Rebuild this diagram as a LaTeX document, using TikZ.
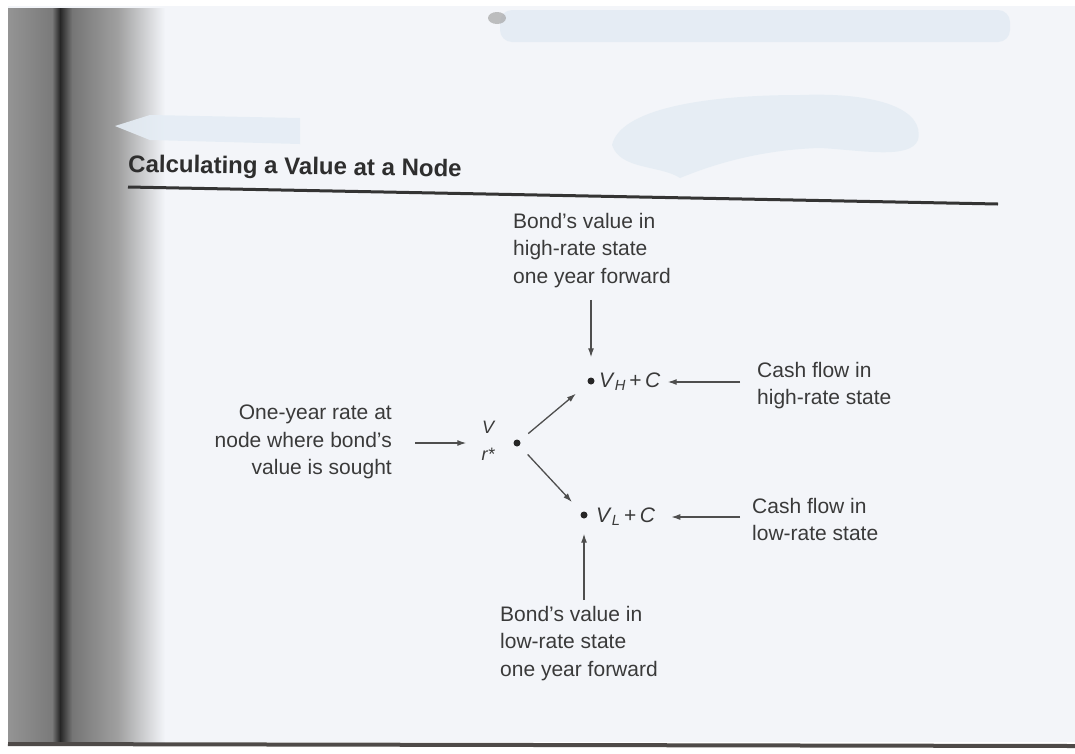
\documentclass[tikz,border=0pt]{standalone}
\usepackage{fontspec}
\setmainfont{Liberation Sans}
\usetikzlibrary{arrows.meta}

\definecolor{ink}{HTML}{3A3A3A}
\definecolor{paper}{HTML}{F3F5F9}
\definecolor{smudge}{HTML}{DAE6F0}
\definecolor{gA}{HTML}{949494}
\definecolor{gB}{HTML}{7A7A7A}
\definecolor{gDark}{HTML}{262626}
\definecolor{gC}{HTML}{757575}
\definecolor{gD}{HTML}{A0A0A0}
\definecolor{edge}{HTML}{4E4A48}

\begin{document}
\begin{tikzpicture}[x=1pt,y=-1pt,
  lbl/.style={inner sep=0pt, text=ink, font=\fontsize{21}{27.5}\selectfont},
  heading/.style={inner sep=0pt, text=ink!80!black, font=\bfseries\fontsize{24}{28}\selectfont},
  dot/.style={circle, fill=black!85, inner sep=0pt, minimum size=7pt},
  arr/.style={draw=ink!90, line width=1.3pt, -{Latex[length=9pt,width=6pt]}},
]
\useasboundingbox (0,0) rectangle (1075,753);

% sheet and page
\fill[white] (0,0) rectangle (1075,753);
\fill[paper] (8,6) rectangle (1075,742);

% shadow of the binding
\shade[left color=gA, right color=gB] (8,8) rectangle (52,742);
\shade[left color=gB, right color=gDark] (52,8) rectangle (60,742);
\shade[left color=gDark, right color=gC] (60,8) rectangle (72,742);
\shade[left color=gC, right color=gD] (72,8) rectangle (118,742);
\shade[left color=gD, right color=paper] (118,8) rectangle (165,742);

% bottom edge of the page
\draw[edge, line width=4pt] (8,744) -- (1075,746);

% faint stains
\fill[smudge, rounded corners=12pt, opacity=.55] (500,10) rectangle (1010,42);
\fill[gray!70, opacity=.7] (497,18) ellipse [x radius=9pt, y radius=6pt];
\fill[smudge, opacity=.5] (612,145) .. controls (620,110) and (700,95) .. (800,95)
  .. controls (880,92) and (925,110) .. (918,140)
  .. controls (910,160) and (860,150) .. (820,148)
  .. controls (750,150) and (700,170) .. (680,178)
  .. controls (660,165) and (620,170) .. (612,145) -- cycle;
\fill[smudge!70!white, opacity=.9] (115,126) -- (150,115) -- (300,118) -- (300,144) -- (150,140) -- cycle;

% heading and rule
\node[heading, anchor=base west, rotate=-0.8] (title) at (128,172) {Calculating a Value at a Node};
\draw[ink!90!black, line width=3pt] (128,187) -- (998,204);

% explanatory labels
\node[lbl, align=left, anchor=north west] (hbond) at (513,213) {Bond's value in\\high-rate state\\one year forward};
\node[lbl, align=right, anchor=north east] (rate) at (392,405) {One-year rate at\\node where bond's\\value is sought};
\node[lbl, align=left, anchor=north west] (hcash) at (757,362) {Cash flow in\\high-rate state};
\node[lbl, align=left, anchor=north west] (lcash) at (752,498) {Cash flow in\\low-rate state};
\node[lbl, align=left, anchor=north west] (lbond) at (500,606) {Bond's value in\\low-rate state\\one year forward};

% tree nodes
\node[dot] (c) at (517,443) {};
\node[dot] (h) at (591,381) {};
\node[dot] (l) at (584,515) {};
\node[lbl, font=\itshape\fontsize{18}{27}\selectfont, align=center] (vr) at (488,441) {V\\r*};
\node[lbl, anchor=west] (hval) at (599,382) {\textit{V}\textsubscript{\textit{H}}\,+\,\textit{C}};
\node[lbl, anchor=west] (lval) at (596,517) {\textit{V}\textsubscript{\textit{L}}\,+\,\textit{C}};

% branches
\draw[arr, shorten <=11pt, shorten >=16pt] (c) -- (h);
\draw[arr, shorten <=12pt, shorten >=14pt] (c) -- (l);

% pointers from the labels
\draw[arr, shorten <=12pt, shorten >=20pt] (hbond.south -| h) -- (h);
\draw[arr, shorten <=6pt, shorten >=15pt] (lbond.north -| l) -- (l);
\draw[arr, shorten <=23pt, shorten >=15pt] (rate.east |- c) -- (vr.west |- c);
\draw[arr, shorten <=17pt, shorten >=7pt] (hcash.west |- hval) -- (hval.east);
\draw[arr, shorten <=12pt, shorten >=16pt] (lcash.west |- lval) -- (lval.east);
\end{tikzpicture}
\end{document}
